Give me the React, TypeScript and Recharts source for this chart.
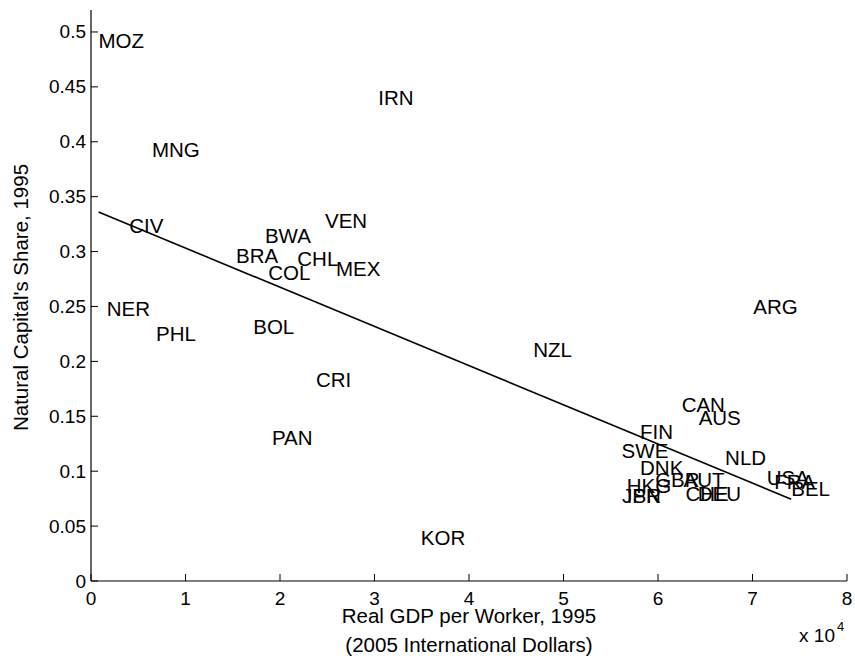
import { ScatterChart, Scatter, XAxis, YAxis } from "recharts";

// Country codes
const codes = [
  "MOZ", "MNG", "IRN", "VEN", "CIV", "BWA", "BRA", "CHL", "MEX", "COL",
  "NER", "PHL", "BOL", "ARG", "NZL", "CRI", "PAN", "KOR", "CAN", "AUS",
  "FIN", "SWE", "NLD", "DNK", "GBR", "AUT", "HKG", "JPN", "ISR", "CHE",
  "DEU", "USA", "FRA", "BEL",
];
// Real GDP per worker, 1995 (units of 10^4, 2005 intl. dollars)
const gdpPerWorker = [
  0.08, 0.645, 3.04, 2.476, 0.405, 1.84, 1.534, 2.183, 2.593, 1.876,
  0.166, 0.688, 1.717, 7.008, 4.68, 2.38, 1.915, 3.49, 6.25, 6.43,
  5.81, 5.615, 6.71, 5.81, 5.97, 6.27, 5.67, 5.62, 5.67, 6.29,
  6.42, 7.15, 7.23, 7.41,
];
// Natural capital's share, 1995
const naturalShare = [
  0.492, 0.393, 0.44, 0.328, 0.324, 0.3145, 0.2964, 0.2936, 0.2845, 0.281,
  0.248, 0.2255, 0.232, 0.25, 0.211, 0.1836, 0.131, 0.04, 0.1605, 0.149,
  0.1364, 0.119, 0.1127, 0.103, 0.092, 0.092, 0.0873, 0.078, 0.078, 0.08,
  0.08, 0.0945, 0.0905, 0.084,
];
// fitted line end points
const fitX = [0.08, 7.41];
const fitY = [0.336, 0.0745];

const xTicks = [0, 1, 2, 3, 4, 5, 6, 7, 8];
const yTicks = [0, 0.05, 0.1, 0.15, 0.2, 0.25, 0.3, 0.35, 0.4, 0.45, 0.5];

const FONT = '"Liberation Sans", Arial, Helvetica, sans-serif';
const TICK_LEN = 7;

const points = codes.map((code, i) => ({
  x: gdpPerWorker[i],
  y: naturalShare[i],
  code,
}));
const fit = fitX.map((x, i) => ({ x, y: fitY[i] }));

const CodeLabel = (p: any) => (
  <text
    x={p.cx}
    y={p.cy}
    textAnchor="start"
    dominantBaseline="central"
    fontFamily={FONT}
    fontSize={20.5}
    fill="#000"
  >
    {p.payload.code}
  </text>
);

// ticks are drawn by hand so they point into the box, like MATLAB
// bottom: tickSize 1 + tickMargin 9 -> label anchor is 10px below the axis
const BottomTick = (p: any) => (
  <g>
    <line x1={p.x} x2={p.x} y1={p.y - 10} y2={p.y - 10 - TICK_LEN} stroke="#000" />
    <text x={p.x} y={p.y + 14} textAnchor="middle" fontFamily={FONT} fontSize={19} fill="#000">
      {p.payload.value}
    </text>
  </g>
);
// left: tickSize 1 + tickMargin 4 -> label anchor is 5px left of the axis
const LeftTick = (p: any) => (
  <g>
    <line x1={p.x + 5} x2={p.x + 5 + TICK_LEN} y1={p.y} y2={p.y} stroke="#000" />
    <text x={p.x} y={p.y} textAnchor="end" dominantBaseline="central" fontFamily={FONT} fontSize={19} fill="#000">
      {p.payload.value}
    </text>
  </g>
);
const TopTick = (p: any) => (
  <line x1={p.x} x2={p.x} y1={p.y + 1} y2={p.y + 1 + TICK_LEN} stroke="#000" />
);
const RightTick = (p: any) => (
  <line x1={p.x - 1} x2={p.x - 1 - TICK_LEN} y1={p.y} y2={p.y} stroke="#000" />
);

const XTitle = (props: any) => {
  const { x, y, width } = props.viewBox;
  const cx = x + width / 2;
  return (
    <g fontFamily={FONT} fill="#000">
      <text x={cx} y={y + 42} textAnchor="middle" fontSize={20.5}>
        Real GDP per Worker, 1995
      </text>
      <text x={cx} y={y + 71} textAnchor="middle" fontSize={20.5}>
        (2005 International Dollars)
      </text>
      <text x={x + width - 12} y={y + 61} textAnchor="end" fontSize={19}>
        x 10
      </text>
      <text x={x + width - 10} y={y + 50} textAnchor="start" fontSize={13}>
        4
      </text>
    </g>
  );
};

const YTitle = (props: any) => {
  const { y, height } = props.viewBox;
  const cx = 20;
  const cy = y + height / 2 + 2;
  return (
    <text
      x={cx}
      y={cy}
      transform={`rotate(-90 ${cx} ${cy})`}
      textAnchor="middle"
      dominantBaseline="central"
      fontFamily={FONT}
      fontSize={20.5}
      fill="#000"
    >
      Natural Capital's Share, 1995
    </text>
  );
};

const lineStyle = { stroke: "#000", strokeWidth: 1.2 };

export default function App() {
  return (
    <div
      style={{
        position: "fixed",
        left: 0,
        top: 0,
        width: 855,
        height: 667,
        overflow: "hidden",
        background: "#fff",
      }}
    >
      <ScatterChart
        width={855}
        height={667}
        margin={{ top: 10, right: 8, bottom: 0, left: 0 }}
      >
        <XAxis
          type="number"
          dataKey="x"
          domain={[0, 8]}
          ticks={xTicks}
          interval={0}
          height={86}
          tickSize={1}
          tickMargin={9}
          tick={BottomTick}
          tickLine={false}
          axisLine={lineStyle}
          label={XTitle}
        />
        <XAxis
          xAxisId="top"
          orientation="top"
          type="number"
          dataKey="x"
          domain={[0, 8]}
          ticks={xTicks}
          interval={0}
          height={0}
          tickSize={1}
          tickMargin={0}
          tick={TopTick}
          tickLine={false}
          axisLine={lineStyle}
        />
        <YAxis
          type="number"
          dataKey="y"
          domain={[0, 0.52]}
          ticks={yTicks}
          interval={0}
          width={91}
          tickSize={1}
          tickMargin={4}
          tick={LeftTick}
          tickLine={false}
          axisLine={lineStyle}
          label={YTitle}
        />
        <YAxis
          yAxisId="right"
          orientation="right"
          type="number"
          dataKey="y"
          domain={[0, 0.52]}
          ticks={yTicks}
          interval={0}
          width={0}
          tickSize={1}
          tickMargin={0}
          tick={RightTick}
          tickLine={false}
          axisLine={lineStyle}
        />
        {/* invisible series bound to the mirrored box axes */}
        <Scatter
          xAxisId="top"
          yAxisId="right"
          data={fit}
          shape={() => <g />}
          isAnimationActive={false}
        />
        <Scatter
          data={fit}
          line={{ stroke: "#000", strokeWidth: 1.6 }}
          shape={() => <g />}
          isAnimationActive={false}
        />
        <Scatter data={points} shape={CodeLabel} isAnimationActive={false} />
      </ScatterChart>
    </div>
  );
}
